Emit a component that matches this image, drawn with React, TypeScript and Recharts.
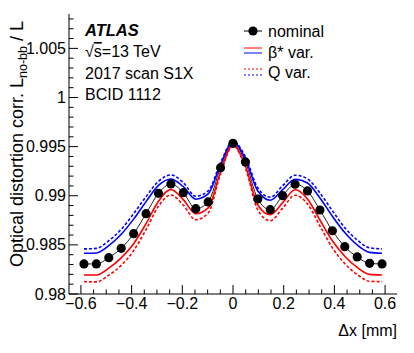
import React from "react";
import { LineChart, Line, XAxis, YAxis } from "recharts";

// scan positions (mm) and corrections
const scanX = [
  -0.588, -0.539, -0.49, -0.441, -0.392, -0.343, -0.294, -0.245, -0.196, -0.147, -0.098, -0.049, 0,
  0.049, 0.098, 0.147, 0.196, 0.245, 0.294, 0.343, 0.392, 0.441, 0.49, 0.539, 0.588,
];
const nominal = [
  0.98306, 0.98306, 0.9837, 0.98465, 0.98614, 0.98818, 0.99025, 0.9912, 0.99031, 0.98868, 0.98937, 0.99286, 0.99534,
  0.99344, 0.98967, 0.98858, 0.99001, 0.99117, 0.99049, 0.98855, 0.98644, 0.98482, 0.98377, 0.98312, 0.98306,
];
// beta* variation (blue up, red down)
const betaUp = [
  0.98415, 0.98418, 0.98492, 0.98608, 0.98762, 0.9894, 0.99106, 0.99171, 0.99092, 0.98965, 0.99018, 0.99317, 0.99549,
  0.99375, 0.99048, 0.98955, 0.99062, 0.99168, 0.9913, 0.98977, 0.98792, 0.98625, 0.98499, 0.98424, 0.98415,
];
const betaDown = [
  0.98194, 0.98194, 0.98263, 0.98368, 0.98512, 0.98716, 0.98944, 0.99064, 0.9896, 0.98817, 0.98876, 0.99245, 0.99519,
  0.99303, 0.98906, 0.98807, 0.9893, 0.99061, 0.98968, 0.98753, 0.98542, 0.98385, 0.9827, 0.982, 0.98194,
];
// Q variation (blue up, red down)
const qUp = [
  0.98459, 0.98464, 0.98543, 0.98658, 0.98818, 0.98991, 0.99147, 0.99212, 0.99133, 0.98995, 0.99049, 0.99337, 0.99554,
  0.99395, 0.99079, 0.98985, 0.99103, 0.99209, 0.99171, 0.99028, 0.98848, 0.98675, 0.9855, 0.9847, 0.98459,
];
const qDown = [
  0.98126, 0.98123, 0.98192, 0.98292, 0.98441, 0.98655, 0.98893, 0.99008, 0.98904, 0.98756, 0.98825, 0.99225, 0.99509,
  0.99283, 0.98855, 0.98746, 0.98874, 0.99005, 0.98917, 0.98692, 0.98471, 0.98309, 0.98199, 0.98129, 0.98126,
];

const xTicks = [
  -0.6, -0.55, -0.5, -0.45, -0.4, -0.35, -0.3, -0.25, -0.2, -0.15, -0.1, -0.05, 0,
  0.05, 0.1, 0.15, 0.2, 0.25, 0.3, 0.35, 0.4, 0.45, 0.5, 0.55, 0.6,
];
const xLabels = [-0.6, -0.4, -0.2, 0, 0.2, 0.4, 0.6];
const yTicks = [
  0.98, 0.981, 0.982, 0.983, 0.984, 0.985, 0.986, 0.987, 0.988, 0.989, 0.99, 0.991, 0.992, 0.993, 0.994,
  0.995, 0.996, 0.997, 0.998, 0.999, 1, 1.001, 1.002, 1.003, 1.004, 1.005, 1.006, 1.007, 1.008,
];
const yLabels = [0.98, 0.985, 0.99, 0.995, 1, 1.005];

const rows = scanX.map((x, i) => ({
  x,
  nominal: nominal[i],
  betaUp: betaUp[i],
  betaDown: betaDown[i],
  qUp: qUp[i],
  qDown: qDown[i],
}));

const FONT = "'Liberation Sans', Arial, Helvetica, sans-serif";
const isMajor = (list: number[], v: number) => list.some((m) => Math.abs(m - v) < 1e-7);
const fmtX = (v: number) => (v === 0 ? "0" : (v < 0 ? "\u2212" : "") + Math.abs(v).toFixed(1));

const BottomTick = (props: any) => {
  const { x, y, payload } = props;
  const major = isMajor(xLabels, payload.value);
  return (
    <g>
      <line x1={x} y1={y} x2={x} y2={y - (major ? 9 : 4.5)} stroke="#000" />
      {major && (
        <text x={x} y={y + 14.5} textAnchor="middle" fontSize={16} fontFamily={FONT} fill="#000">
          {fmtX(payload.value)}
        </text>
      )}
    </g>
  );
};

const TopTick = (props: any) => {
  const { x, y, payload } = props;
  const major = isMajor(xLabels, payload.value);
  return <line x1={x} y1={y} x2={x} y2={y + (major ? 9 : 4.5)} stroke="#000" />;
};

const LeftTick = (props: any) => {
  const { x, y, payload } = props;
  const major = isMajor(yLabels, payload.value);
  return (
    <g>
      <line x1={x} y1={y} x2={x + (major ? 9 : 4.5)} y2={y} stroke="#000" />
      {major && (
        <text x={x - 3} y={y + 5.5} textAnchor="end" fontSize={16} fontFamily={FONT} fill="#000">
          {String(payload.value)}
        </text>
      )}
    </g>
  );
};

const RightTick = (props: any) => {
  const { x, y, payload } = props;
  const major = isMajor(yLabels, payload.value);
  return <line x1={x} y1={y} x2={x - (major ? 9 : 4.5)} y2={y} stroke="#000" />;
};

export default function App() {
  return (
    <div style={{ position: "absolute", left: 0, top: 0, width: 414, height: 353, background: "#fff" }}>
      <LineChart width={414} height={353} data={rows} margin={{ top: 14, right: 17, bottom: 0, left: 0 }}>
        <XAxis
          xAxisId="b"
          dataKey="x"
          type="number"
          domain={[-0.647, 0.647]}
          allowDataOverflow
          ticks={xTicks}
          interval={0}
          height={59}
          tickSize={0}
          tickMargin={0}
          tickLine={false}
          axisLine={{ stroke: "#000" }}
          tick={<BottomTick />}
        />
        <XAxis
          xAxisId="t"
          orientation="top"
          dataKey="x"
          type="number"
          domain={[-0.647, 0.647]}
          allowDataOverflow
          ticks={xTicks}
          interval={0}
          height={0}
          tickSize={0}
          tickMargin={0}
          tickLine={false}
          axisLine={{ stroke: "#000" }}
          tick={<TopTick />}
        />
        <YAxis
          yAxisId="l"
          type="number"
          domain={[0.98, 1.0085]}
          allowDataOverflow
          ticks={yTicks}
          interval={0}
          width={69}
          tickSize={0}
          tickMargin={0}
          tickLine={false}
          axisLine={{ stroke: "#000" }}
          tick={<LeftTick />}
        />
        <YAxis
          yAxisId="r"
          orientation="right"
          type="number"
          domain={[0.98, 1.0085]}
          allowDataOverflow
          ticks={yTicks}
          interval={0}
          width={0}
          tickSize={0}
          tickMargin={0}
          tickLine={false}
          axisLine={{ stroke: "#000" }}
          tick={<RightTick />}
        />
        <Line
          xAxisId="b"
          yAxisId="l"
          dataKey="nominal"
          type="monotone"
          stroke="#222"
          strokeWidth={1}
          dot={{ r: 4.6, fill: "#000", stroke: "none" }}
          isAnimationActive={false}
        />
        <Line xAxisId="b" yAxisId="l" dataKey="qUp" type="monotone" stroke="#0000ff" strokeWidth={1.6} strokeDasharray="3 2" dot={false} isAnimationActive={false} />
        <Line xAxisId="b" yAxisId="l" dataKey="qDown" type="monotone" stroke="#ff0000" strokeWidth={1.6} strokeDasharray="3 2" dot={false} isAnimationActive={false} />
        <Line xAxisId="b" yAxisId="l" dataKey="betaUp" type="monotone" stroke="#0000ff" strokeWidth={1.6} dot={false} isAnimationActive={false} />
        <Line xAxisId="b" yAxisId="l" dataKey="betaDown" type="monotone" stroke="#ff0000" strokeWidth={1.6} dot={false} isAnimationActive={false} />
      </LineChart>
      <svg
        width={414}
        height={353}
        style={{ position: "absolute", left: 0, top: 0, pointerEvents: "none" }}
        fontFamily={FONT}
        fill="#000"
      >
        <text x={85} y={36} fontSize={16.5} fontWeight="bold" fontStyle="italic">ATLAS</text>
        <text x={85} y={57} fontSize={16}>
          {"\u221A"}
          <tspan textDecoration="overline">s</tspan>
          {"=13 TeV"}
        </text>
        <text x={85} y={79} fontSize={16}>2017 scan S1X</text>
        <text x={85} y={100} fontSize={16}>BCID 1112</text>

        <line x1={244} y1={31} x2={262} y2={31} stroke="#000" strokeWidth={1} />
        <circle cx={253} cy={31} r={4.6} fill="#000" />
        <text x={268} y={37} fontSize={16}>nominal</text>
        <line x1={244} y1={48} x2={262} y2={48} stroke="#ff0000" strokeWidth={1} />
        <line x1={244} y1={53} x2={262} y2={53} stroke="#0000ff" strokeWidth={1} />
        <text x={268} y={58} fontSize={16}>{"\u03B2* var."}</text>
        <line x1={244} y1={69} x2={262} y2={69} stroke="#ff0000" strokeWidth={1} strokeDasharray="2 2" />
        <line x1={244} y1={75} x2={262} y2={75} stroke="#0000ff" strokeWidth={1} strokeDasharray="2 2" />
        <text x={268} y={78} fontSize={16}>Q var.</text>

        <text x={397} y={336} fontSize={16} textAnchor="end">{"\u0394x [mm]"}</text>
        <text x={23} y={144} fontSize={18} textAnchor="middle" transform="rotate(-90 23 144)">
          Optical distortion corr. L
          <tspan fontSize={12.5} dy={4}>no-bb</tspan>
          <tspan dy={-4}> / L</tspan>
        </text>
      </svg>
    </div>
  );
}
